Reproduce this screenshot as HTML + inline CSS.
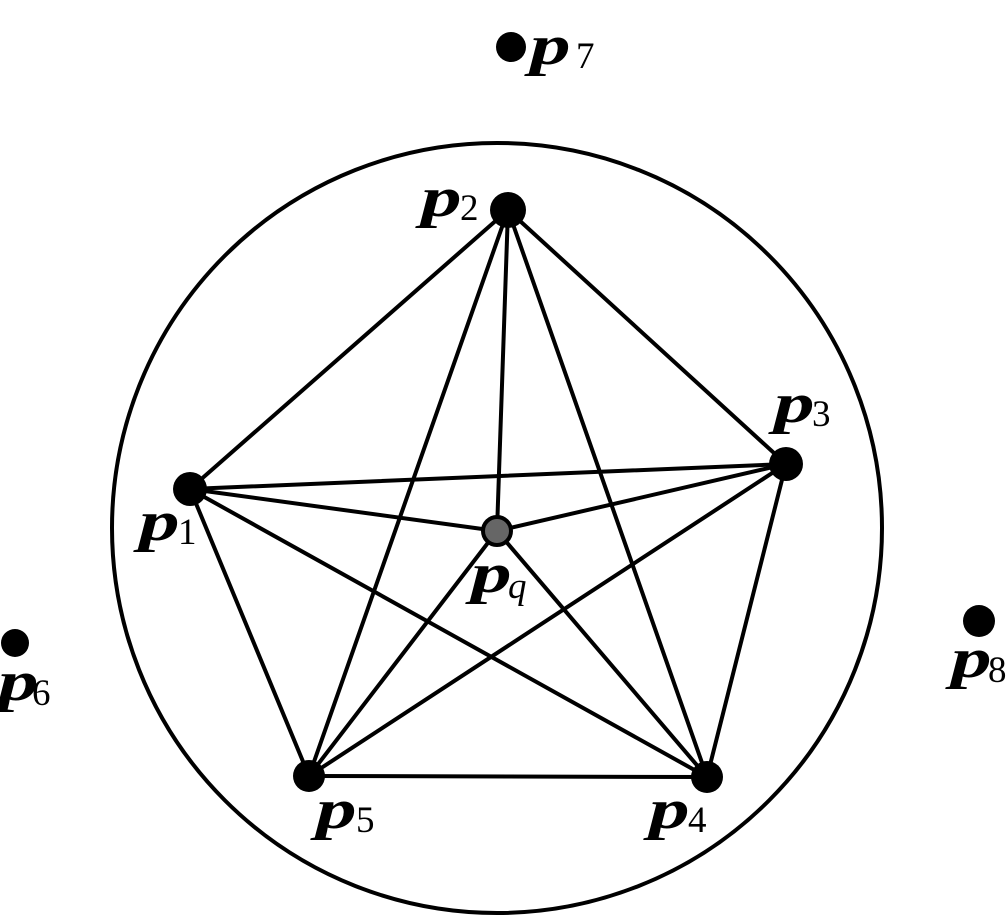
<!DOCTYPE html>
<html><head><meta charset="utf-8"><style>
html,body{margin:0;padding:0;background:#fff;}
svg{display:block;}
.p{font-family:"Liberation Serif",serif;font-weight:bold;font-style:italic;font-size:56px;}
.s{font-family:"Liberation Serif",serif;font-size:37px;}
.si{font-family:"Liberation Serif",serif;font-style:italic;font-size:37px;}
</style></head><body>
<svg width="1008" height="917" viewBox="0 0 1008 917" xmlns="http://www.w3.org/2000/svg">
<circle cx="497" cy="528" r="385" fill="none" stroke="#000" stroke-width="4"/>
<g stroke="#000" stroke-width="4" stroke-linecap="round">
<line x1="508" y1="210" x2="190" y2="489"/>
<line x1="508" y1="210" x2="786" y2="464"/>
<line x1="508" y1="210" x2="497" y2="531"/>
<line x1="508" y1="210" x2="309" y2="776"/>
<line x1="508" y1="210" x2="707" y2="777"/>
<line x1="190" y1="489" x2="786" y2="464"/>
<line x1="190" y1="489" x2="497" y2="531"/>
<line x1="190" y1="489" x2="309" y2="776"/>
<line x1="190" y1="489" x2="707" y2="777"/>
<line x1="786" y1="464" x2="497" y2="531"/>
<line x1="786" y1="464" x2="309" y2="776"/>
<line x1="786" y1="464" x2="707" y2="777"/>
<line x1="309" y1="776" x2="707" y2="777"/>
<line x1="309" y1="776" x2="497" y2="531"/>
<line x1="707" y1="777" x2="497" y2="531"/>
</g>
<g fill="#000">
<circle cx="511" cy="47" r="15"/>
<circle cx="508" cy="210" r="18"/>
<circle cx="786" cy="464" r="17"/>
<circle cx="190" cy="489" r="17"/>
<circle cx="309" cy="776" r="16"/>
<circle cx="707" cy="777" r="16"/>
<circle cx="15" cy="643" r="14"/>
<circle cx="979" cy="621" r="16"/>
</g>
<circle cx="497" cy="531" r="14" fill="#666" stroke="#000" stroke-width="4"/>
<text class="p" transform="translate(530,64) scale(1.45,1)">p</text><text class="s" x="576" y="68">7</text>
<text class="p" transform="translate(421,216) scale(1.45,1)">p</text><text class="s" x="460" y="220">2</text>
<text class="p" transform="translate(774,422) scale(1.45,1)">p</text><text class="s" x="812" y="426">3</text>
<text class="p" transform="translate(139,540) scale(1.45,1)">p</text><text class="s" x="178" y="544">1</text>
<text class="p" transform="translate(471,592) scale(1.45,1)">p</text><text class="si" x="508" y="598">q</text>
<text class="p" transform="translate(-2,700) scale(1.45,1)">p</text><text class="s" x="32" y="705">6</text>
<text class="p" transform="translate(951,677) scale(1.45,1)">p</text><text class="s" x="988" y="682">8</text>
<text class="p" transform="translate(316,828) scale(1.45,1)">p</text><text class="s" x="356" y="832">5</text>
<text class="p" transform="translate(649,828) scale(1.45,1)">p</text><text class="s" x="688" y="832">4</text>
</svg>
</body></html>
